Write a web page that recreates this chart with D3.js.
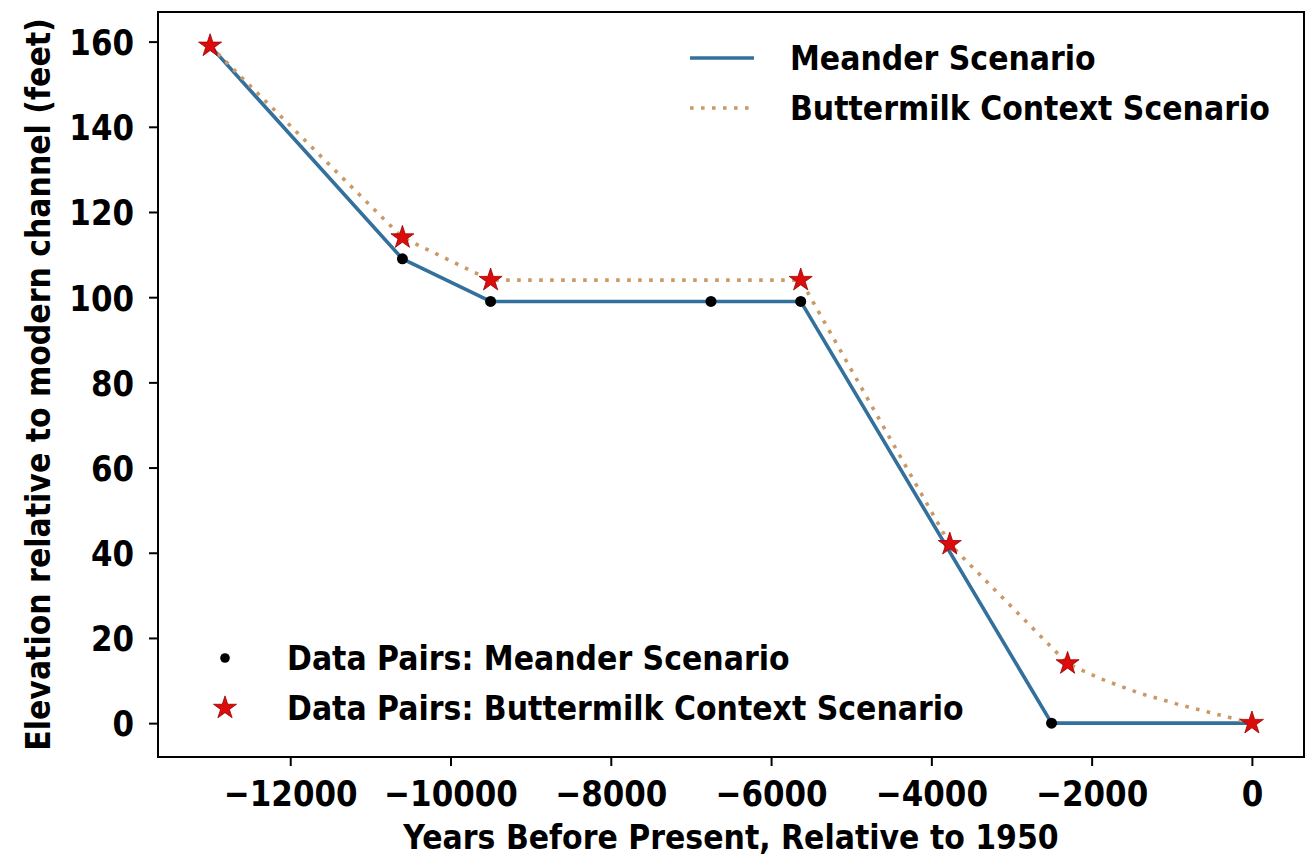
<!DOCTYPE html>
<html>
<head>
<meta charset="utf-8">
<script src="https://cdn.jsdelivr.net/npm/d3@7"></script>
<style>
  html, body { margin: 0; padding: 0; background: #ffffff; }
  svg { display: block; }
  text { font-family: "DejaVu Sans", sans-serif; font-weight: bold; fill: #000; }
</style>
</head>
<body>
<svg id="chart" width="1307" height="865"></svg>
<script>
// ---- data ----
const meanderYears = [-13000, -10600, -9500, -6750, -5630, -2500, 0];
const meanderElev  = [159, 109, 99, 99, 99, 0, 0];

const meanderPairYears = [-10600, -9500, -6750, -5630, -2500];
const meanderPairElev  = [109, 99, 99, 99, 0];

const butterPairYears = [-13000, -10600, -9500, -5630, -3770, -2300, 0];
const butterPairElev  = [159, 114, 104, 104, 42, 14, 0];

const butterYears = [-13000, -10600, -9500, -5630, -3770, -2300, -1900, -1400, -900, -400, 0];
const butterElev  = [159, 114, 104, 104, 42, 14, 10.5, 7, 4.3, 1.9, 0];

const xTickValues = [-12000, -10000, -8000, -6000, -4000, -2000, 0];
const yTickValues = [0, 20, 40, 60, 80, 100, 120, 140, 160];

const legendTopLabels = ["Meander Scenario", "Buttermilk Context Scenario"];
const legendBottomLabels = ["Data Pairs: Meander Scenario", "Data Pairs: Buttermilk Context Scenario"];

// ---- layout ----
const W = 1307, H = 865;
const L = 158, R = 1304, T = 12, B = 757;
const blue = "#33709c";
const orange = "#c99a68";
const red = "#dc0c0c";

const svg = d3.select("#chart");
svg.append("rect").attr("width", W).attr("height", H).attr("fill", "#fff");

const x = d3.scaleLinear().domain([-13650, 650]).range([L, R]);
const y = d3.scaleLinear().domain([-7.95, 166.95]).range([B, T]);

const zip = (a, b) => a.map((v, i) => [v, b[i]]);
const line = d3.line().x(d => x(d[0])).y(d => y(d[1]));

// lines
svg.append("path").datum(zip(meanderYears, meanderElev))
  .attr("d", line).attr("fill", "none")
  .attr("stroke", blue).attr("stroke-width", 3.6).attr("stroke-linejoin", "round");

svg.append("path").datum(zip(butterYears, butterElev))
  .attr("d", line).attr("fill", "none")
  .attr("stroke", orange).attr("stroke-width", 3.6)
  .attr("stroke-dasharray", "3.6,7.4");

// markers
svg.append("g").selectAll("circle").data(zip(meanderPairYears, meanderPairElev))
  .join("circle").attr("cx", d => x(d[0])).attr("cy", d => y(d[1]))
  .attr("r", 5.5).attr("fill", "#000");

const star = d3.symbol().type(d3.symbolStar).size(165);
svg.append("g").selectAll("path").data(zip(butterPairYears, butterPairElev))
  .join("path").attr("d", star)
  .attr("transform", d => `translate(${x(d[0])},${y(d[1])})`)
  .attr("fill", red).attr("stroke", "#9a0000").attr("stroke-width", 0.8);

// axes
const fmt = d3.format("d");
const xAxis = svg.append("g").attr("transform", `translate(0,${B})`)
  .call(d3.axisBottom(x).tickValues(xTickValues).tickFormat(fmt).tickSize(9).tickSizeOuter(0));
const yAxis = svg.append("g").attr("transform", `translate(${L},0)`)
  .call(d3.axisLeft(y).tickValues(yTickValues).tickFormat(fmt).tickSize(9).tickSizeOuter(0));

[xAxis, yAxis].forEach(g => {
  g.select(".domain").remove();
  g.selectAll(".tick line").attr("stroke", "#000").attr("stroke-width", 2);
  g.selectAll(".tick text").style("font-family", "'DejaVu Sans', sans-serif")
    .style("font-weight", "bold").style("font-size", "31px").attr("fill", "#000");
});
xAxis.selectAll(".tick text").attr("dy", null).attr("y", 49.5 / 1.15)
  .attr("transform", "scale(1,1.15)");
yAxis.selectAll(".tick text").attr("x", -15 - 9).attr("dy", "0.36em")
  .attr("transform", "scale(1,1.15)");

// frame
svg.append("rect").attr("x", L).attr("y", T).attr("width", R - L).attr("height", B - T)
  .attr("fill", "none").attr("stroke", "#000").attr("stroke-width", 2);

// axis labels
svg.append("text")
  .attr("transform", `translate(${(L + R) / 2},849) scale(1,1.1)`)
  .attr("text-anchor", "middle").style("font-size", "30px")
  .text("Years Before Present, Relative to 1950");

svg.append("text")
  .attr("transform", `translate(50,${(T + B) / 2}) rotate(-90) scale(1,1.1)`)
  .attr("text-anchor", "middle").style("font-size", "30px")
  .text("Elevation relative to modern channel (feet)");

// top legend
const lt = svg.append("g");
lt.append("line").attr("x1", 690).attr("x2", 754).attr("y1", 58).attr("y2", 58)
  .attr("stroke", blue).attr("stroke-width", 3.6);
lt.append("line").attr("x1", 690).attr("x2", 754).attr("y1", 108).attr("y2", 108)
  .attr("stroke", orange).attr("stroke-width", 3.6).attr("stroke-dasharray", "3.6,7.4");
legendTopLabels.forEach((t, i) => {
  lt.append("text").attr("transform", `translate(790,${70 + 50 * i}) scale(1,1.1)`)
    .style("font-size", "30px").text(t);
});

// bottom legend
const lb = svg.append("g");
lb.append("circle").attr("cx", 225).attr("cy", 658).attr("r", 4.8).attr("fill", "#000");
lb.append("path").attr("d", star).attr("transform", "translate(225,708)")
  .attr("fill", red).attr("stroke", "#9a0000").attr("stroke-width", 0.8);
legendBottomLabels.forEach((t, i) => {
  lb.append("text").attr("transform", `translate(287,${670 + 50 * i}) scale(1,1.1)`)
    .style("font-size", "30px").text(t);
});
</script>
</body>
</html>
